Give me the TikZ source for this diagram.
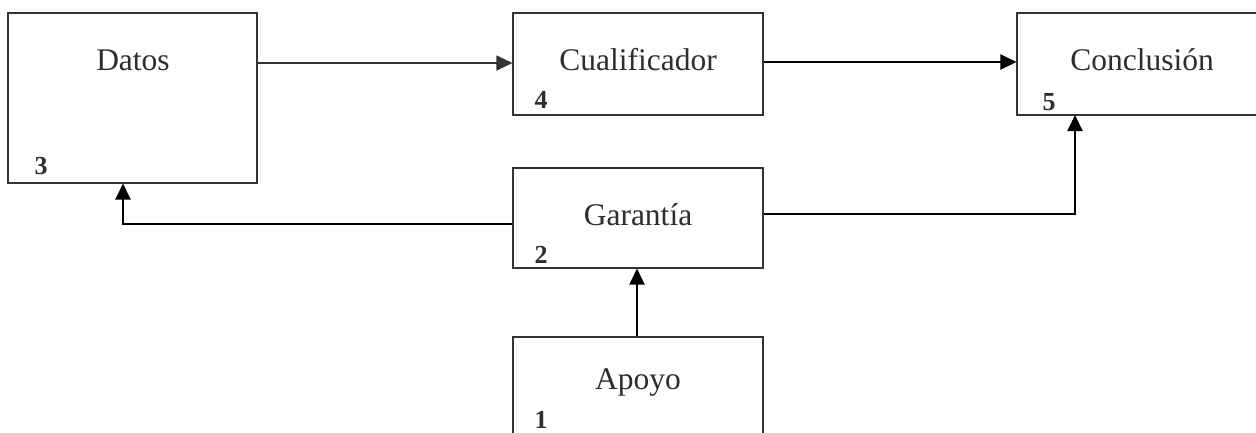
\documentclass[tikz,border=0pt]{standalone}
\usepackage{fontspec}
\setmainfont{Liberation Serif}
\usetikzlibrary{arrows.meta}
\definecolor{boxline}{gray}{0.2}
\definecolor{txt}{gray}{0.18}
\begin{document}
\begin{tikzpicture}[x=1pt,y=-1pt,
  box/.style={draw=boxline,line width=1.1pt,inner sep=0pt,minimum width=250pt,fill=white},
  title/.style={font=\fontsize{31.5}{32}\selectfont,text=txt,inner sep=0pt},
  num/.style={font=\fontsize{26}{26}\selectfont\bfseries,text=txt,inner sep=0pt},
  arr/.style={line width=2pt,-{Triangle[length=16pt,width=15pt]}},
  thinarr/.style={line width=1.1pt,draw=boxline,-{Triangle[length=16pt,width=15pt]}}]
\useasboundingbox (0,0) rectangle (1256,432);
\clip (0,0) rectangle (1256,432);
\node[box,minimum width=249pt,minimum height=170pt] (datos) at (132.5,98) {};
\node[box,minimum height=102pt] (cual) at (638,64) {};
\node[box,minimum height=102pt] (concl) at (1142,64) {};
\node[box,minimum height=100pt] (gar) at (638,218) {};
\node[box,minimum height=100pt] (apoyo) at (638,387) {};
\node[title] (tdatos) at (133,60) {Datos};
\node[title] (tcual) at (638,60) {Cualificador};
\node[title] (tconcl) at (1142,60) {Conclusión};
\node[title] (tgar) at (638,215) {Garantía};
\node[title] (tapoyo) at (638,382) {Apoyo};
\node[num] (n3) at (41,166) {3};
\node[num] (n4) at (541,100) {4};
\node[num] (n5) at (1049,102) {5};
\node[num] (n2) at (541,255) {2};
\node[num] (n1) at (541,419.5) {1};
\draw[thinarr] (datos.east |- 0,63) -- (cual.west |- 0,63);
\draw[arr] (cual.east |- 0,62) -- (concl.west |- 0,62);
\draw[arr] (gar.west |- 0,224) -- (123,224) -- (123,183.5);
\draw[arr] (gar.east |- 0,214) -- (1075,214) -- (1075,115);
\draw[arr] (apoyo.north -| 637,0) -- (gar.south -| 637,0);
\end{tikzpicture}
\end{document}
